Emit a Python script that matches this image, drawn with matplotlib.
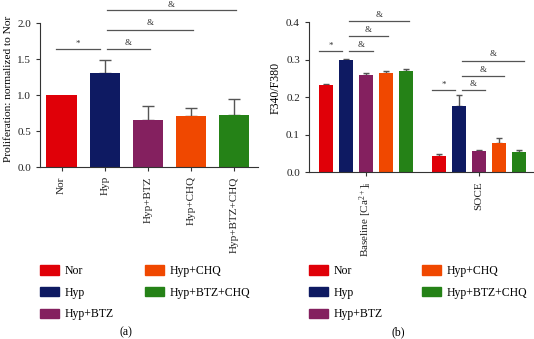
import matplotlib.pyplot as plt
from matplotlib.patches import Patch

plt.rcParams['font.family'] = ['Liberation Serif', 'DejaVu Serif']
plt.rcParams['font.size'] = 8
plt.rcParams['mathtext.fontset'] = 'custom'
plt.rcParams['mathtext.rm'] = 'Liberation Serif'
plt.rcParams['mathtext.it'] = 'Liberation Serif:italic'

groups = ['Nor', 'Hyp', 'Hyp+BTZ', 'Hyp+CHQ', 'Hyp+BTZ+CHQ']
colors = ['#e00008', '#0e1a62', '#84205f', '#f04800', '#258217']

# panel (a): proliferation
prolif_mean = [1.00, 1.31, 0.65, 0.71, 0.73]
prolif_err = [0.00, 0.18, 0.20, 0.11, 0.21]

# panel (b): F340/F380
calcium_cats = ['Baseline $\\mathregular{[Ca^{2+}]_i}$', 'SOCE']
baseline_mean = [0.232, 0.298, 0.260, 0.265, 0.270]
baseline_err = [0.004, 0.004, 0.005, 0.004, 0.004]
soce_mean = [0.044, 0.177, 0.055, 0.077, 0.053]
soce_err = [0.005, 0.029, 0.004, 0.013, 0.007]

line_col = '#555555'
axis_col = '#333333'


def style_axis(ax, top):
    for s in ['top', 'right']:
        ax.spines[s].set_visible(False)
    ax.spines['left'].set_bounds(0, top)
    for s in ['left', 'bottom']:
        ax.spines[s].set_color(axis_col)
        ax.spines[s].set_linewidth(0.8)
    ax.tick_params(colors=axis_col, labelcolor='#222222', width=0.8, length=3)


def sig(ax, x0, x1, y, txt, dy):
    ax.plot([x0, x1], [y, y], color=line_col, lw=0.9, clip_on=False)
    ax.text((x0 + x1) / 2, y + dy, txt, ha='center', va='bottom',
            fontsize=6.5, color='#333333', clip_on=False)


def legend(fig, x0, colsp):
    handles = [Patch(color=c) for c in colors]
    fig.legend(handles, groups, ncol=2, loc='upper left',
               bbox_to_anchor=(x0, 0.218), borderpad=0, borderaxespad=0,
               frameon=False, fontsize=8.5, handlelength=1.65, handleheight=0.8,
               columnspacing=colsp, labelspacing=0.82, handletextpad=0.45)


fig = plt.figure(figsize=(5.34, 3.39), dpi=100)

# (a)
ax1 = fig.add_axes([0.0749, 0.507, 0.408, 0.4885])
xs = list(range(len(groups)))
ax1.bar(xs, prolif_mean, width=0.7, color=colors, zorder=2)
ax1.errorbar(xs[1:], prolif_mean[1:], yerr=[[0] * 4, prolif_err[1:]], fmt='none',
             ecolor=line_col, elinewidth=1.0, capsize=4, capthick=1.0, zorder=1)
ax1.set_xlim(-0.5, 4.55)
ax1.set_ylim(0, 2.3)
ax1.set_yticks([0, 0.5, 1.0, 1.5, 2.0])
ax1.set_yticklabels(['0.0', '0.5', '1.0', '1.5', '2.0'])
ax1.set_xticks(xs)
ax1.set_xticklabels(groups, rotation=90)
ax1.set_ylabel('Proliferation: normalized to Nor', fontsize=8.2)
ax1.yaxis.set_label_coords(-0.125, 0.475)
style_axis(ax1, 2.0)
sig(ax1, -0.12, 0.88, 1.64, '*', 0.02)
sig(ax1, 1.05, 2.05, 1.64, '&', 0.03)
sig(ax1, 1.05, 3.05, 1.91, '&', 0.03)
sig(ax1, 1.05, 4.05, 2.18, '&', 0.02)

# (b)
ax2 = fig.add_axes([0.5787, 0.4926, 0.4195, 0.4978])
off = 5.65
bx = [i for i in range(5)]
sx = [i + off for i in range(5)]
ax2.bar(bx, baseline_mean, width=0.67, color=colors, zorder=2)
ax2.bar(sx, soce_mean, width=0.67, color=colors, zorder=2)
ax2.errorbar(bx, baseline_mean, yerr=[[0] * 5, baseline_err], fmt='none',
             ecolor=line_col, elinewidth=1.0, capsize=2.5, capthick=1.0, zorder=1)
ax2.errorbar(sx, soce_mean, yerr=[[0] * 5, soce_err], fmt='none',
             ecolor=line_col, elinewidth=1.0, capsize=2.5, capthick=1.0, zorder=1)
ax2.set_xlim(-0.85, 10.35)
ax2.set_ylim(0, 0.45)
ax2.set_yticks([0, 0.1, 0.2, 0.3, 0.4])
ax2.set_yticklabels(['0.0', '0.1', '0.2', '0.3', '0.4'])
ax2.set_xticks([2, 2 + off])
ax2.set_xticklabels(calcium_cats, rotation=90)
ax2.set_ylabel('F340/F380', fontsize=8.5, labelpad=3)
style_axis(ax2, 0.4)
sig(ax2, -0.35, 0.8, 0.323, '*', 0.003)
sig(ax2, 1.15, 2.35, 0.323, '&', 0.006)
sig(ax2, 1.15, 3.1, 0.363, '&', 0.006)
sig(ax2, 1.15, 4.15, 0.403, '&', 0.006)
sig(ax2, off - 0.35, off + 0.8, 0.218, '*', 0.003)
sig(ax2, off + 1.15, off + 2.3, 0.218, '&', 0.006)
sig(ax2, off + 1.15, off + 3.25, 0.256, '&', 0.006)
sig(ax2, off + 1.15, off + 4.25, 0.297, '&', 0.006)

legend(fig, 40 / 534, 2.6)
legend(fig, 309 / 534, 3.3)
fig.text(0.236, 0.012, '(a)', ha='center', fontsize=8.5)
fig.text(0.745, 0.012, '(b)', ha='center', fontsize=8.5)

fig.savefig('out.png', dpi=100)
